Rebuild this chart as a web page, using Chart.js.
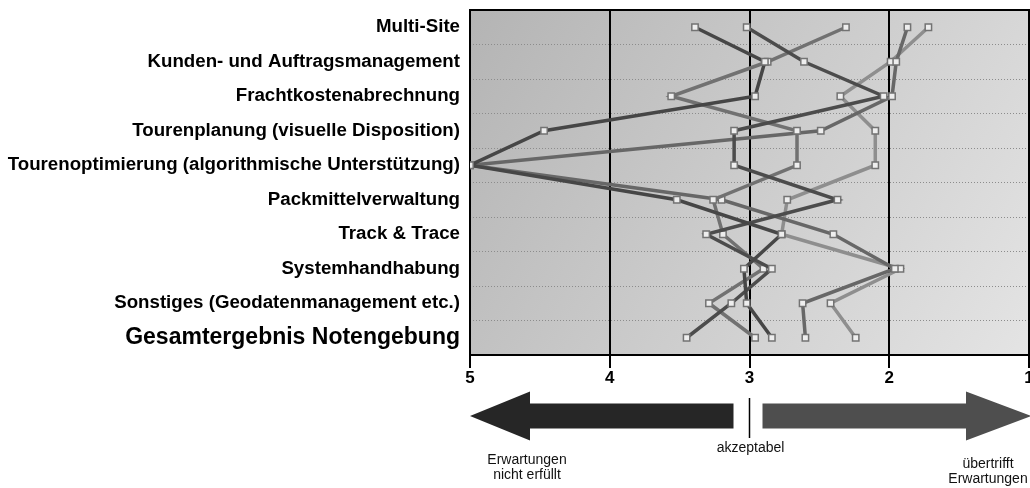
<!DOCTYPE html>
<html>
<head>
<meta charset="utf-8">
<script src="https://cdn.jsdelivr.net/npm/chart.js@4"></script>
<style>
  body { margin: 0; background: #fff; }
  #wrap { width: 1030px; height: 488px; }
</style>
</head>
<body>
<div id="wrap"><canvas id="chart" width="1030" height="488"></canvas></div>
<script>
const categories = [
  "Multi-Site",
  "Kunden- und Auftragsmanagement",
  "Frachtkostenabrechnung",
  "Tourenplanung (visuelle Disposition)",
  "Tourenoptimierung (algorithmische Unterstützung)",
  "Packmittelverwaltung",
  "Track & Trace",
  "Systemhandhabung",
  "Sonstiges (Geodatenmanagement etc.)",
  "Gesamtergebnis Notengebung",
];

// one list per vendor (scale 5 = left, 1 = right)
const seriesA = [3.39, 2.89, 2.96, 4.47, 5.0, 3.52, 2.77, 3.04, 3.02, 2.84];
const seriesB = [3.02, 2.61, 2.04, 3.11, 3.11, 2.37, 3.31, 2.84, 3.13, 3.45];
const seriesC = [2.31, 2.87, 3.56, 2.66, 2.66, 3.26, 3.19, 2.90, 3.29, 2.96];
const seriesD = [1.87, 1.95, 1.98, 2.49, 5.0, 3.20, 2.40, 1.96, 2.62, 2.60];
const seriesE = [1.72, 1.99, 2.35, 2.10, 2.10, 2.73, 2.77, 1.92, 2.42, 2.24];

const xTicks = [5, 4, 3, 2, 1];

const FONT = '"Liberation Sans", Arial, sans-serif';

function lineSet(data, color) {
  return {
    data: data,
    borderColor: color,
    borderWidth: 3.5,
    tension: 0,
    pointStyle: "rect",
    pointRadius: 4.5,
    pointBackgroundColor: "#eeeeee",
    pointBorderColor: "#737373",
    pointBorderWidth: 1.5,
  };
}

const backdrop = {
  id: "backdrop",
  beforeDraw(chart) {
    const { ctx, chartArea: a } = chart;
    const g = ctx.createLinearGradient(a.left, a.top, a.right, a.bottom);
    g.addColorStop(0, "#b4b4b4");
    g.addColorStop(1, "#e4e4e4");
    ctx.save();
    ctx.fillStyle = g;
    ctx.fillRect(a.left, a.top, a.right - a.left, a.bottom - a.top);
    ctx.restore();
  },
  beforeDatasetsDraw(chart) {
    const { ctx, chartArea: a } = chart;
    ctx.save();
    ctx.strokeStyle = "#000";
    ctx.lineWidth = 2;
    ctx.strokeRect(a.left, a.top, a.right - a.left, a.bottom - a.top);
    ctx.restore();
  },
};

const scaleArrows = {
  id: "scaleArrows",
  afterDraw(chart) {
    const ctx = chart.ctx;
    const x = chart.scales.x;
    const x5 = x.getPixelForValue(5);
    const x3 = x.getPixelForValue(3);
    const x1 = x.getPixelForValue(1);
    const cy = 416;

    ctx.save();
    // left arrow
    ctx.fillStyle = "#262626";
    ctx.beginPath();
    ctx.moveTo(x5, cy);
    ctx.lineTo(x5 + 60, cy - 24.5);
    ctx.lineTo(x5 + 60, cy - 12.5);
    ctx.lineTo(x3 - 16, cy - 12.5);
    ctx.lineTo(x3 - 16, cy + 12.5);
    ctx.lineTo(x5 + 60, cy + 12.5);
    ctx.lineTo(x5 + 60, cy + 24.5);
    ctx.closePath();
    ctx.fill();

    // right arrow
    ctx.fillStyle = "#4e4e4e";
    ctx.beginPath();
    ctx.moveTo(x1 + 2, cy);
    ctx.lineTo(x1 - 63, cy - 24.5);
    ctx.lineTo(x1 - 63, cy - 12.5);
    ctx.lineTo(x3 + 13, cy - 12.5);
    ctx.lineTo(x3 + 13, cy + 12.5);
    ctx.lineTo(x1 - 63, cy + 12.5);
    ctx.lineTo(x1 - 63, cy + 24.5);
    ctx.closePath();
    ctx.fill();

    // divider at 3
    ctx.strokeStyle = "#000";
    ctx.lineWidth = 1.5;
    ctx.beginPath();
    ctx.moveTo(x3, 398);
    ctx.lineTo(x3, 438);
    ctx.stroke();

    ctx.fillStyle = "#111";
    ctx.font = "14px " + FONT;
    ctx.textAlign = "center";
    ctx.textBaseline = "middle";
    ctx.fillText("akzeptabel", x3 + 1, 448);
    ctx.fillText("Erwartungen", 527, 460);
    ctx.fillText("nicht erfüllt", 527, 475);
    ctx.fillText("übertrifft", 988, 464);
    ctx.fillText("Erwartungen", 988, 479);
    ctx.restore();
  },
};

new Chart(document.getElementById("chart"), {
  type: "line",
  data: {
    labels: categories,
    datasets: [
      lineSet(seriesA, "#464646"),
      lineSet(seriesB, "#4c4c4c"),
      lineSet(seriesC, "#717171"),
      lineSet(seriesD, "#676767"),
      lineSet(seriesE, "#8e8e8e"),
    ],
  },
  options: {
    indexAxis: "y",
    responsive: false,
    animation: false,
    devicePixelRatio: 1,
    layout: { autoPadding: false, padding: { top: 10, right: 1, left: 0, bottom: 0 } },
    plugins: {
      legend: { display: false },
      tooltip: { enabled: false },
    },
    scales: {
      y: {
        type: "category",
        offset: true,
        grid: {
          offset: true,
          color: "#8c8c8c",
          lineWidth: 1,
          drawTicks: false,
        },
        border: { display: false, dash: [1, 2] },
        ticks: {
          color: "#000",
          padding: 10,
          font: (c) => ({
            family: FONT,
            weight: "bold",
            size: c.index === 9 ? 23 : 18.7,
          }),
        },
        afterFit: (s) => {
          s.width = 470;
          s.paddingTop = 0;
          s.paddingBottom = 0;
        },
      },
      x: {
        type: "linear",
        min: 1,
        max: 5,
        reverse: true,
        afterBuildTicks: (s) => {
          s.ticks = xTicks.map((v) => ({ value: v }));
        },
        grid: {
          color: "#000",
          lineWidth: 2,
          tickLength: 13,
          tickColor: "#000",
        },
        border: { display: false },
        ticks: {
          color: "#000",
          padding: 0,
          font: { family: FONT, weight: "bold", size: 17 },
        },
        afterFit: (s) => {
          s.height = 133;
          s.paddingLeft = 0;
          s.paddingRight = 0;
        },
      },
    },
  },
  plugins: [backdrop, scaleArrows],
});
</script>
</body>
</html>
